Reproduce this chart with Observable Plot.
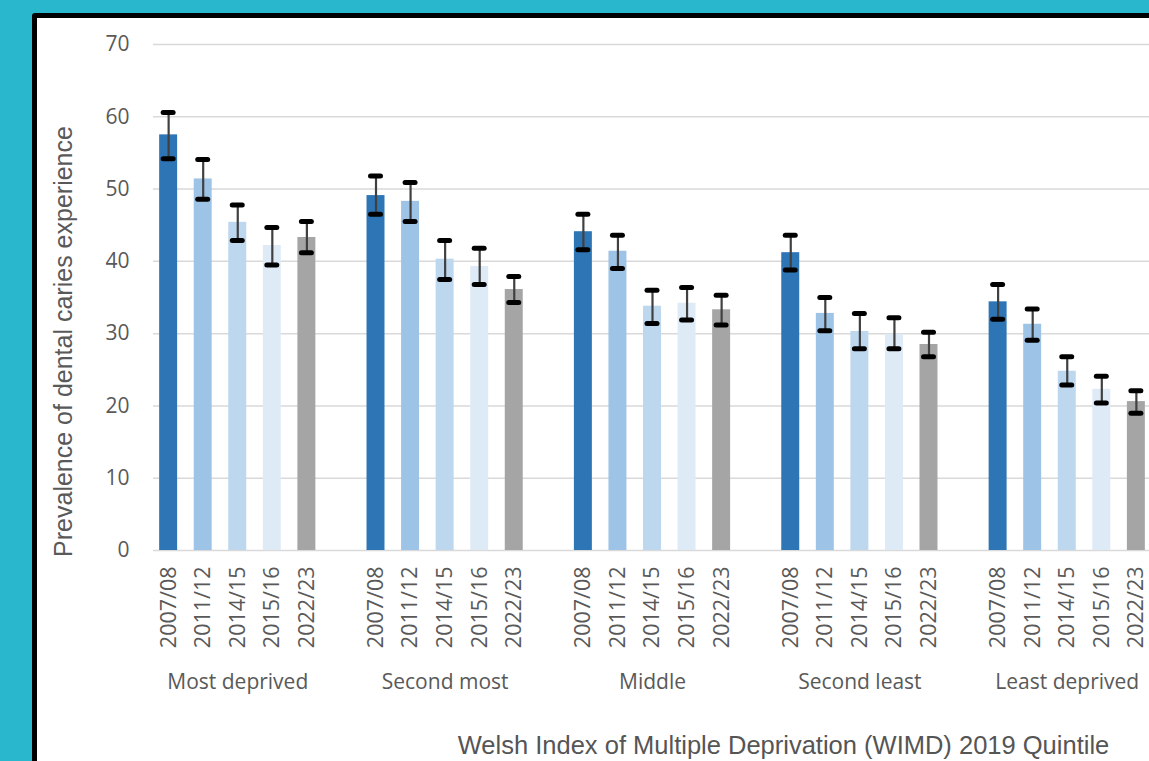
<!DOCTYPE html>
<html>
<head>
<meta charset="utf-8">
<script src="https://cdn.jsdelivr.net/npm/d3@7"></script>
<script src="https://cdn.jsdelivr.net/npm/@observablehq/plot@0.6"></script>
<style>
  html, body { margin: 0; padding: 0; width: 1149px; height: 761px; overflow: hidden; background: #28b7cc; }
  #frame { position: absolute; left: 32px; top: 13px; width: 1200px; height: 800px; border: 5px solid #000; border-radius: 3px; background: #fff; }
  #chart { position: absolute; left: 0; top: 0; }
  #chart svg { overflow: visible; }
</style>
</head>
<body>
<div id="frame"></div>
<div id="chart"></div>
<script>
const groups = ["Most deprived", "Second most", "Middle", "Second least", "Least deprived"];
const years = ["2007/08", "2011/12", "2014/15", "2015/16", "2022/23"];
const yearColors = ["#2e75b6", "#9dc3e6", "#bdd7ee", "#deebf7", "#a5a5a5"];
const yTicks = [0, 10, 20, 30, 40, 50, 60, 70];
const yLabel = "Prevalence of dental caries experience";
const xTitle = "Welsh Index of Multiple Deprivation (WIMD) 2019 Quintile";

// rows: groups, columns: years
const prevalence = [
  [57.5, 51.4, 45.4, 42.2, 43.3],
  [49.1, 48.3, 40.3, 39.3, 36.1],
  [44.1, 41.4, 33.8, 34.2, 33.3],
  [41.2, 32.8, 30.3, 29.9, 28.5],
  [34.4, 31.3, 24.8, 22.3, 20.6]
];
const upper = [
  [60.6, 54.1, 47.8, 44.7, 45.5],
  [51.8, 50.9, 42.9, 41.8, 37.9],
  [46.5, 43.6, 36.0, 36.4, 35.3],
  [43.6, 35.0, 32.8, 32.2, 30.2],
  [36.8, 33.4, 26.8, 24.1, 22.1]
];
const lower = [
  [54.2, 48.6, 42.9, 39.5, 41.2],
  [46.5, 45.5, 37.5, 36.8, 34.3],
  [41.6, 39.0, 31.4, 31.9, 31.2],
  [38.8, 30.4, 27.9, 27.9, 26.8],
  [32.0, 29.1, 22.9, 20.4, 19.0]
];

const keyOf = (g, y) => g + "|" + y;
const data = [];
groups.forEach((g, gi) => years.forEach((y, yi) => {
  data.push({key: keyOf(g, y), group: g, year: y, value: prevalence[gi][yi], lo: lower[gi][yi], hi: upper[gi][yi]});
}));
const domain = [];
const realKeys = [];
groups.forEach((g, gi) => {
  years.forEach(y => { domain.push(keyOf(g, y)); realKeys.push(keyOf(g, y)); });
  if (gi < groups.length - 1) domain.push("gap" + gi);
});
const groupLabels = groups.map(g => ({key: keyOf(g, years[2]), group: g}));

const chart = Plot.plot({
  width: 1149,
  height: 761,
  marginLeft: 155,
  marginRight: 0,
  marginTop: 44,
  marginBottom: 211,
  style: {background: "transparent", fontFamily: "'Open Sans', sans-serif", color: "#595959", overflow: "visible"},
  x: {type: "band", domain, paddingInner: 0.48, paddingOuter: 0.12, round: false},
  y: {domain: [0, 70]},
  color: {domain: years, range: yearColors},
  marks: [
    Plot.ruleY(yTicks, {stroke: "#d9d9d9", strokeWidth: 1.5, insetLeft: -2}),
    Plot.barY(data, {x: "key", y: "value", fill: "year"}),
    Plot.ruleX(data, {x: "key", y1: "lo", y2: "hi", stroke: "#404040", strokeWidth: 2.2}),
    Plot.tickY(data, {x: "key", y: "hi", stroke: "#000", strokeWidth: 5, strokeLinecap: "round", inset: 4}),
    Plot.tickY(data, {x: "key", y: "lo", stroke: "#000", strokeWidth: 5, strokeLinecap: "round", inset: 4}),
    Plot.axisY({ticks: yTicks, tickSize: 0, tickPadding: 26, fontSize: 21, label: null}),
    Plot.axisX({ticks: realKeys, tickFormat: k => k.split("|")[1], tickRotate: -90, tickSize: 0, tickPadding: 16, fontSize: 21.5, label: null}),
    Plot.text(groupLabels, {x: "key", text: "group", frameAnchor: "bottom", dy: 138, fontSize: 21, fill: "#595959"}),
    Plot.text([yLabel], {frameAnchor: "left", textAnchor: "middle", rotate: -90, dx: -92, dy: 44, fontSize: 25, fontFamily: "'Liberation Sans', Arial, sans-serif", fill: "#595959"}),
    Plot.text([xTitle], {frameAnchor: "bottom", dx: 131, dy: 203, fontSize: 25.5, fontFamily: "'Liberation Sans', Arial, sans-serif", fill: "#555"})
  ]
});
document.getElementById("chart").appendChild(chart);
</script>
</body>
</html>
